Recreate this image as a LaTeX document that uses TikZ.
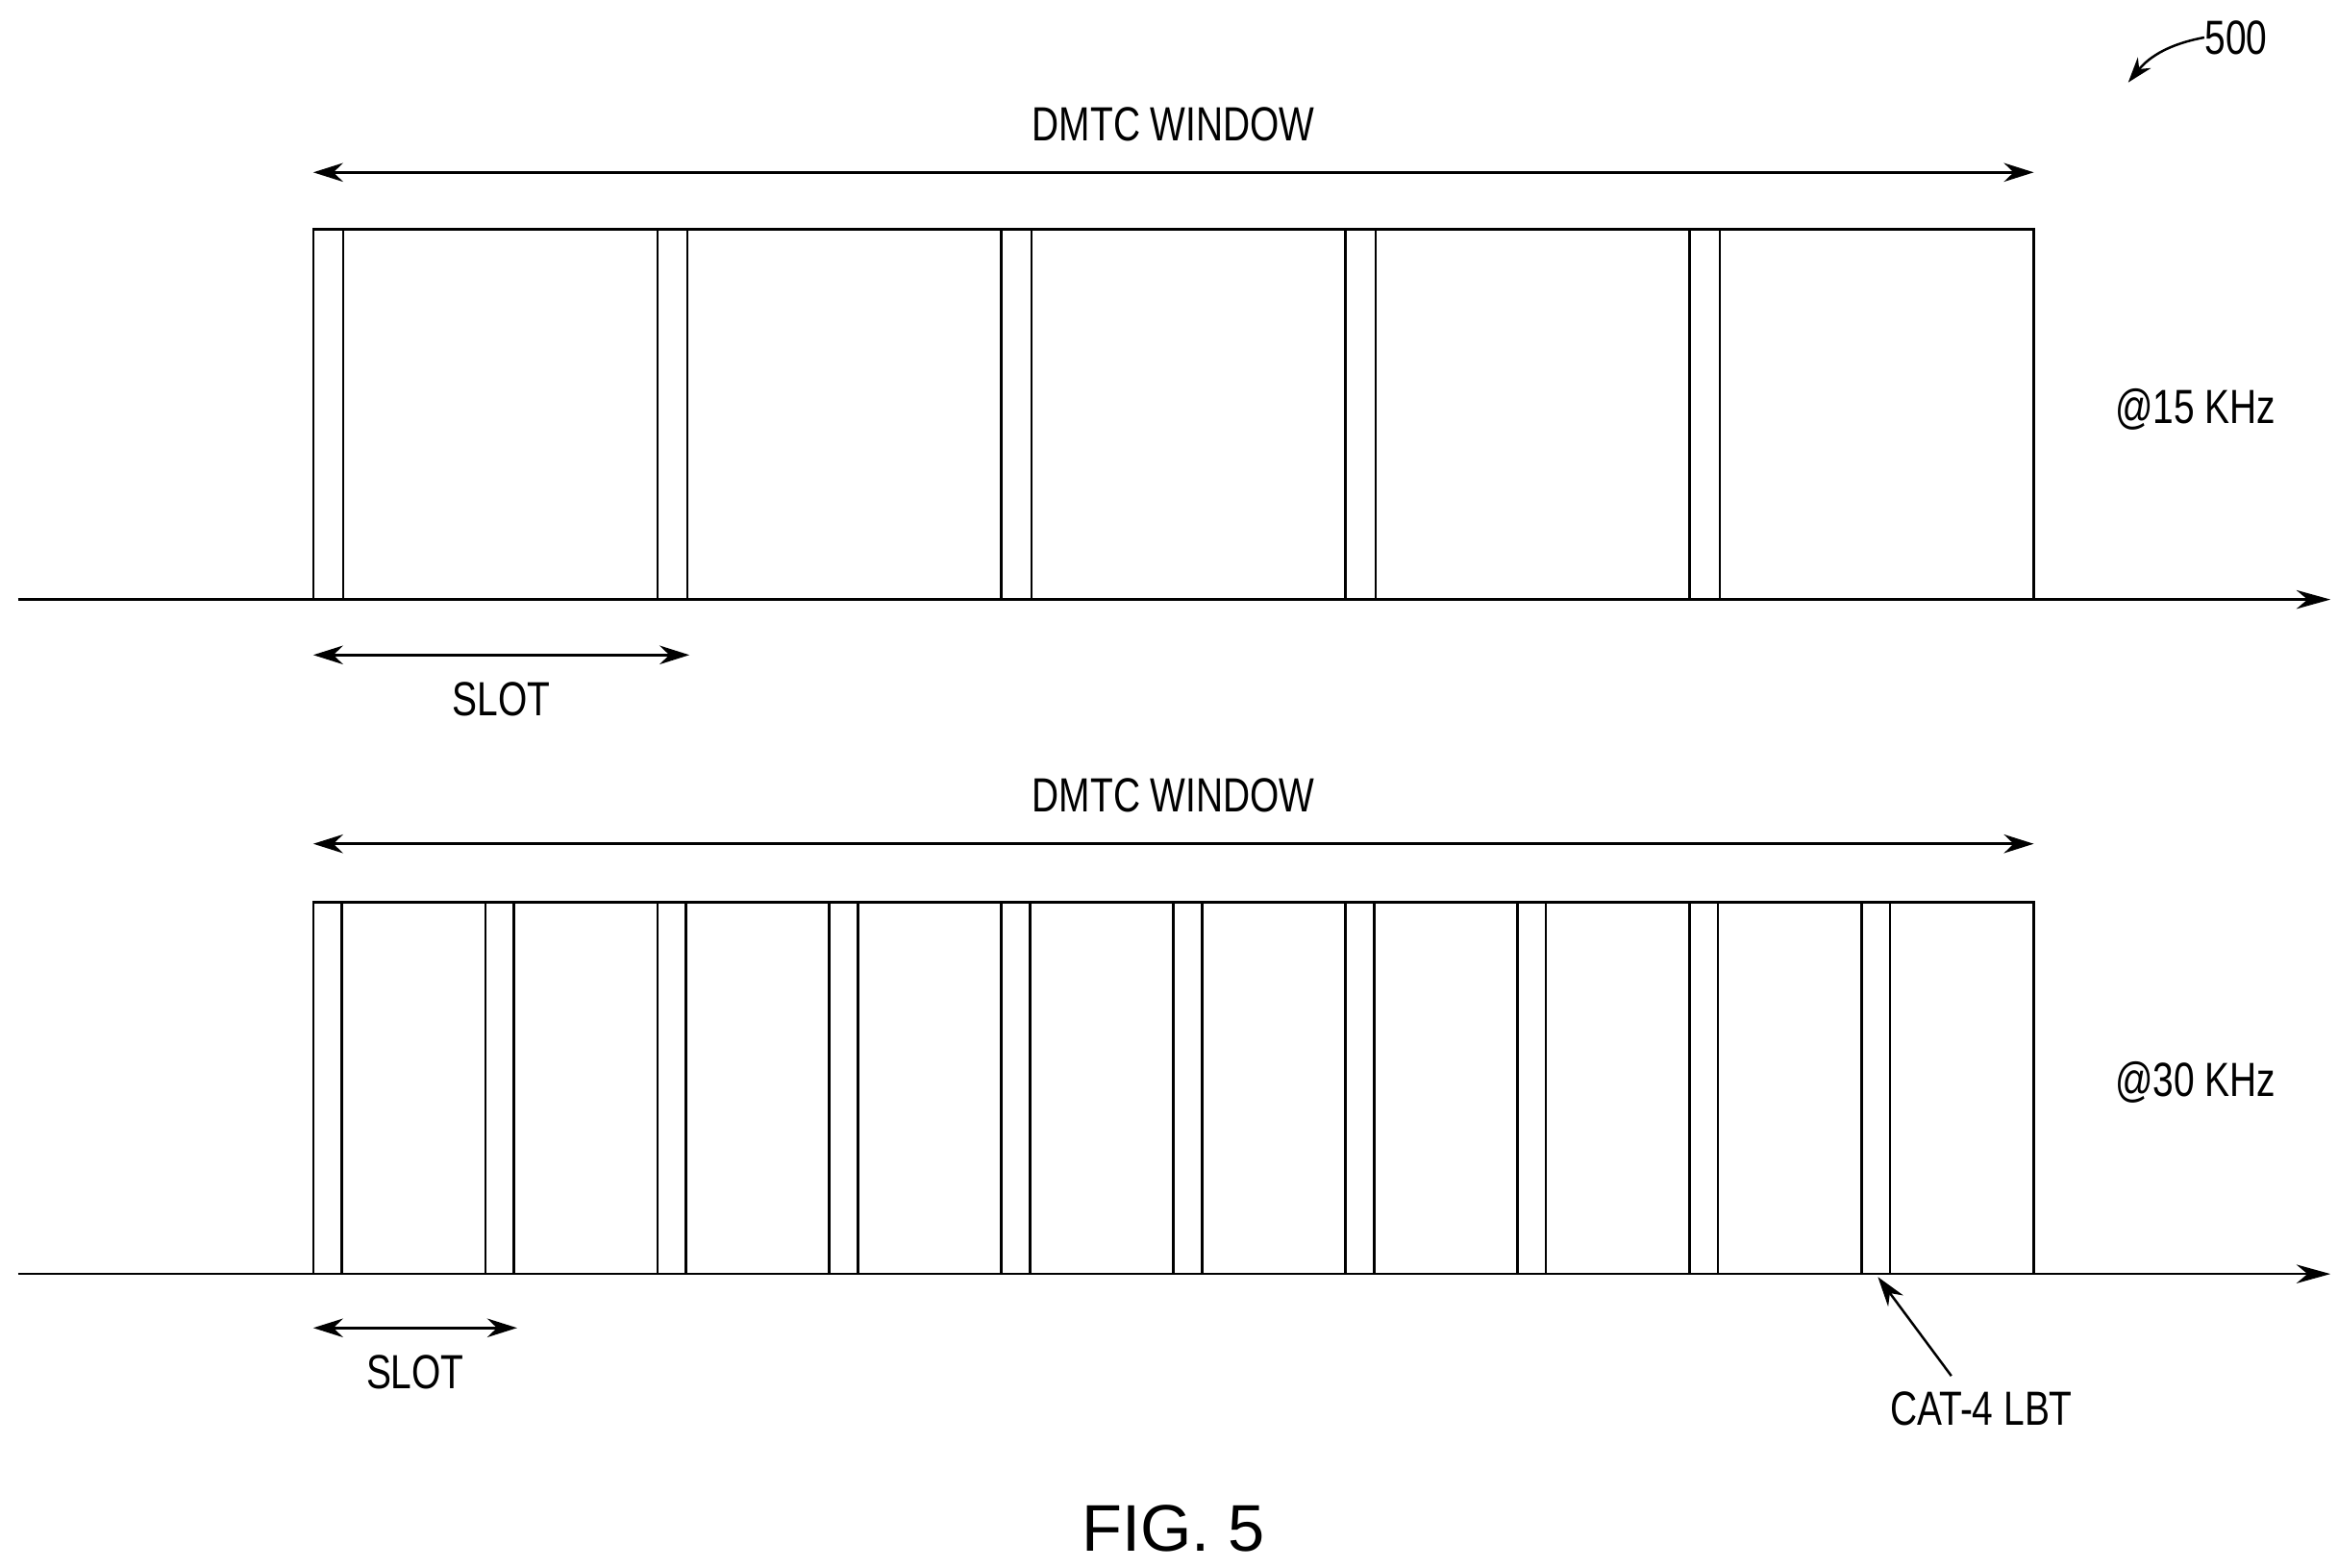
\documentclass[tikz,border=0pt]{standalone}
\usepackage{fontspec}
\setmainfont{Liberation Sans}[FakeStretch=0.78]
\newfontfamily\figfont{Liberation Sans}
\usetikzlibrary{positioning,arrows.meta,calc}
\begin{document}
\begin{tikzpicture}[x=0.5pt,y=-0.5pt,
  lbl/.style={font=\fontsize{16}{18}\selectfont,inner sep=0pt},
  dim/.style={thick,{Stealth[length=3.5mm,width=2.2mm]}-{Stealth[length=3.5mm,width=2.2mm]}},
  axis/.style={thick,-{Stealth[length=4mm,width=2.2mm]}},
  frame/.style={draw,thick},
  lbt/.style={draw,thick}
]
\useasboundingbox (0,0) rectangle (1560,1046);
% reference number
\node[lbl] (ref) at (1492,25) {500};
\coordinate (refend) at (1420,55);
\draw[thick,-{Stealth[length=3mm,width=2mm]}] (ref.west) to[bend right=20] (refend);

% Upper timeline - 15 KHz
\coordinate (axAs) at (12,400);
\coordinate (axAe) at (1555,400);
\coordinate (winAnw) at (209,153);
\coordinate (winAse) at (1357,400);
\draw[frame] (winAnw) rectangle (winAse);
\foreach \i in {0,...,4}
  \draw[lbt] ($(winAnw)+(229.6*\i,0)$) rectangle ++(20,247);
\draw[axis] (axAs) -- (axAe);
\coordinate (wAs) at (209,115);
\coordinate (wAe) at (1357,115);
\draw[dim] (wAs) -- node[lbl,above=10pt] (dmtcA) {DMTC WINDOW} (wAe);
\node[lbl] (scsA) at (1465,273) {@15 KHz};
\coordinate (sAs) at (209,437);
\coordinate (sAe) at (460,437);
\draw[dim] (sAs) -- (sAe);
\node[lbl,below=9pt of $(sAs)!0.5!(sAe)$] (slotA) {SLOT};

% Lower timeline - 30 KHz
\coordinate (axBs) at (12,850);
\coordinate (axBe) at (1555,850);
\coordinate (winBnw) at (209,602);
\coordinate (winBse) at (1357,850);
\draw[frame] (winBnw) rectangle (winBse);
\foreach \i in {0,...,9}
  \draw[lbt] ($(winBnw)+(114.8*\i,0)$) rectangle ++(19,248);
\draw[axis] (axBs) -- (axBe);
\coordinate (lbt) at (1253,852);
\coordinate (wBs) at (209,563);
\coordinate (wBe) at (1357,563);
\draw[dim] (wBs) -- node[lbl,above=10pt] (dmtcB) {DMTC WINDOW} (wBe);
\node[lbl] (scsB) at (1465,722) {@30 KHz};
\coordinate (sBs) at (209,886);
\coordinate (sBe) at (345,886);
\draw[dim] (sBs) -- (sBe);
\node[lbl,below=9pt of $(sBs)!0.5!(sBe)$] (slotB) {SLOT};
\node[lbl] (cat) at (1322,940) {CAT-4 LBT};
\coordinate (catend) at (1302,918);
\draw[thick,-{Stealth[length=3.5mm,width=2.2mm]}] (catend) -- (lbt);

% caption
\node[font=\figfont\fontsize{22}{24}\selectfont] (fig) at (783,1020) {FIG. 5};
\end{tikzpicture}
\end{document}
